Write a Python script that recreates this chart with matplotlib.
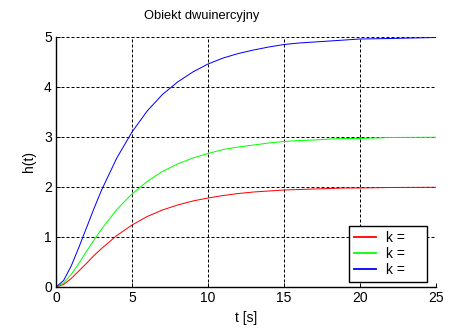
import matplotlib
matplotlib.use('Agg')
import matplotlib.pyplot as plt

plt.rcParams['font.family'] = ['Liberation Sans', 'DejaVu Sans']

# step response
t = [0, 0.5, 1, 1.5, 2, 2.5, 3, 4, 5, 6, 7, 8, 9, 10, 11, 12, 13, 14, 15,
     16, 17, 18, 19, 20, 22, 25]
h_red = [0, 0.05, 0.17, 0.32, 0.47, 0.63, 0.77, 1.03, 1.24, 1.41, 1.54, 1.64,
         1.72, 1.78, 1.83, 1.87, 1.90, 1.92, 1.94, 1.95, 1.96, 1.97, 1.98,
         1.98, 1.99, 1.995]
h_green = [0, 0.08, 0.25, 0.47, 0.71, 0.94, 1.16, 1.55, 1.86, 2.11, 2.31, 2.46,
           2.58, 2.67, 2.75, 2.80, 2.84, 2.88, 2.91, 2.93, 2.94, 2.96, 2.97,
           2.97, 2.99, 2.995]
h_blue = [0, 0.13, 0.42, 0.79, 1.18, 1.57, 1.94, 2.58, 3.10, 3.52, 3.85, 4.10,
          4.30, 4.46, 4.58, 4.67, 4.74, 4.80, 4.85, 4.88, 4.90, 4.92, 4.94,
          4.96, 4.97, 4.99]
labels = ['k =', 'k =', 'k =']
colors = [(1, 0, 0), (0, 1, 0), (0, 0, 1)]
x_ticks = [0, 5, 10, 15, 20, 25]
y_ticks = [0, 1, 2, 3, 4, 5]

px = 0.72  # one pixel in points at dpi 100

fig = plt.figure(figsize=(4.61, 3.30), dpi=100)
ax = fig.add_axes([56 / 461, 43 / 330, 380 / 461, 250 / 330])

for h, c, lab in zip([h_red, h_green, h_blue], colors, labels):
    ax.plot(t, h, color=c, lw=px, label=lab)

ax.set_xlim(0, 25)
ax.set_ylim(0, 5)
ax.set_xticks(x_ticks)
ax.set_yticks(y_ticks)
ax.tick_params(direction='in', length=3, width=px, labelsize=10, pad=3)
ax.grid(True, color='k', linestyle=(0, (3, 2)), linewidth=px)
ax.set_axisbelow(True)
for side in ['top', 'right']:
    ax.spines[side].set_visible(False)
for side in ['left', 'bottom']:
    ax.spines[side].set_linewidth(px * 1.4)

ax.set_xlabel('t [s]', fontsize=10, labelpad=4)
ax.set_ylabel('h(t)', fontsize=10, labelpad=6)

fig.text(202 / 461, 1 - 16 / 330, 'Obiekt dwuinercyjny', fontsize=9.3,
         ha='center', va='center')

# legend box stretched to the width seen in the picture
leg = ax.legend(loc='lower left',
                bbox_to_anchor=(349 / 461, 48 / 330, 78 / 461, 52 / 330),
                bbox_transform=fig.transFigure, mode='expand', fontsize=10,
                fancybox=False, framealpha=1, edgecolor='k',
                handlelength=1.6, handletextpad=0.7, labelspacing=0.15,
                borderpad=0.35, borderaxespad=0)
leg.get_frame().set_linewidth(px * 1.4)
for line, c in zip(leg.get_lines(), colors):
    line.set_color(c)
    line.set_linewidth(1.3)

fig.savefig('out.png', dpi=100)
